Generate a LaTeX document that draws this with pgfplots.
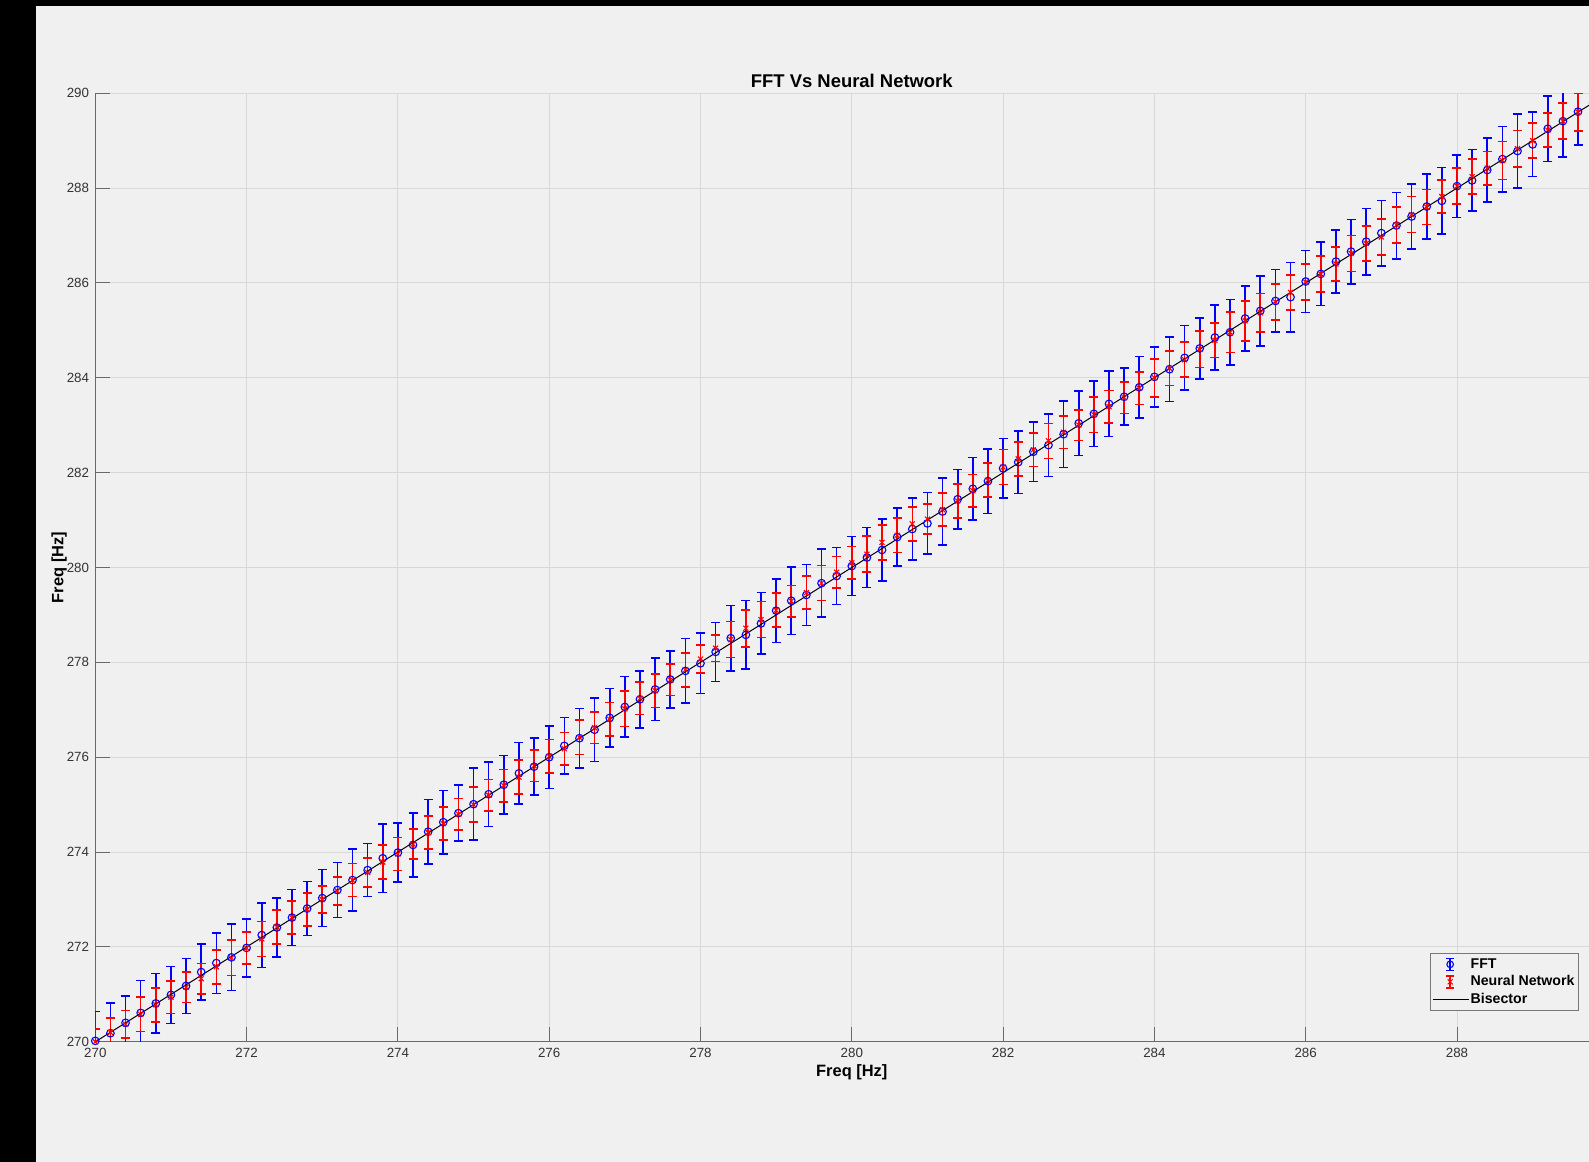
\documentclass[border=0pt]{standalone}
\usepackage{pgfplots}
\pgfplotsset{compat=1.18}
\usepackage{pgfplotstable}
\usepackage{fontspec}
\setmainfont{Liberation Sans}
\definecolor{figbg}{RGB}{240,240,240}
\definecolor{gridgray}{RGB}{216,216,216}
\definecolor{axisgray}{RGB}{105,105,105}
\definecolor{legedge}{RGB}{120,120,120}

\pgfplotstableread{
x y e
270.0 270.02 0.62
270.2 270.18 0.64
270.4 270.40 0.56
270.6 270.61 0.68
270.8 270.81 0.63
271.0 270.99 0.60
271.2 271.18 0.58
271.4 271.47 0.59
271.6 271.66 0.64
271.8 271.78 0.70
272.0 271.98 0.61
272.2 272.25 0.68
272.4 272.41 0.62
272.6 272.62 0.59
272.8 272.81 0.57
273.0 273.03 0.60
273.2 273.20 0.58
273.4 273.41 0.65
273.6 273.62 0.56
273.8 273.87 0.72
274.0 273.99 0.62
274.2 274.15 0.67
274.4 274.43 0.68
274.6 274.63 0.67
274.8 274.82 0.59
275.0 275.01 0.76
275.2 275.22 0.68
275.4 275.42 0.62
275.6 275.66 0.65
275.8 275.80 0.60
276.0 276.00 0.66
276.2 276.24 0.60
276.4 276.40 0.63
276.6 276.58 0.67
276.8 276.83 0.62
277.0 277.06 0.64
277.2 277.22 0.60
277.4 277.43 0.66
277.6 277.64 0.60
277.8 277.82 0.68
278.0 277.98 0.64
278.2 278.22 0.62
278.4 278.51 0.69
278.6 278.58 0.72
278.8 278.82 0.65
279.0 279.09 0.67
279.2 279.30 0.71
279.4 279.42 0.64
279.6 279.67 0.72
279.8 279.82 0.60
280.0 280.03 0.62
280.2 280.21 0.63
280.4 280.37 0.65
280.6 280.64 0.61
280.8 280.81 0.65
281.0 280.93 0.65
281.2 281.18 0.71
281.4 281.44 0.63
281.6 281.66 0.66
281.8 281.82 0.68
282.0 282.09 0.63
282.2 282.22 0.66
282.4 282.44 0.63
282.6 282.58 0.66
282.8 282.81 0.70
283.0 283.04 0.68
283.2 283.24 0.69
283.4 283.45 0.69
283.6 283.60 0.60
283.8 283.80 0.65
284.0 284.02 0.63
284.2 284.18 0.68
284.4 284.42 0.68
284.6 284.62 0.64
284.8 284.85 0.68
285.0 284.96 0.69
285.2 285.25 0.68
285.4 285.41 0.74
285.6 285.62 0.66
285.8 285.70 0.73
286.0 286.03 0.65
286.2 286.19 0.67
286.4 286.45 0.66
286.6 286.66 0.68
286.8 286.87 0.70
287.0 287.05 0.69
287.2 287.21 0.70
287.4 287.40 0.68
287.6 287.61 0.68
287.8 287.73 0.70
288.0 288.04 0.66
288.2 288.16 0.65
288.4 288.38 0.68
288.6 288.61 0.69
288.8 288.78 0.78
289.0 288.92 0.68
289.2 289.25 0.69
289.4 289.41 0.75
289.6 289.61 0.70
289.8 289.80 0.68
}\fftdata

\pgfplotstableread{
x y e
270.0 270.00 0.27
270.2 270.20 0.30
270.4 270.37 0.29
270.6 270.58 0.36
270.8 270.78 0.36
271.0 270.94 0.34
271.2 271.15 0.32
271.4 271.33 0.32
271.6 271.58 0.36
271.8 271.77 0.37
272.0 271.98 0.34
272.2 272.17 0.37
272.4 272.42 0.36
272.6 272.62 0.35
272.8 272.79 0.35
273.0 273.00 0.28
273.2 273.18 0.30
273.4 273.41 0.35
273.6 273.57 0.30
273.8 273.79 0.36
274.0 273.96 0.35
274.2 274.17 0.32
274.4 274.41 0.35
274.6 274.60 0.35
274.8 274.80 0.33
275.0 275.00 0.37
275.2 275.20 0.33
275.4 275.40 0.34
275.6 275.58 0.36
275.8 275.82 0.33
276.0 276.02 0.35
276.2 276.18 0.34
276.4 276.42 0.36
276.6 276.62 0.33
276.8 276.80 0.35
277.0 277.02 0.37
277.2 277.24 0.34
277.4 277.40 0.35
277.6 277.63 0.33
277.8 277.84 0.36
278.0 278.07 0.30
278.2 278.30 0.28
278.4 278.48 0.38
278.6 278.72 0.39
278.8 278.90 0.38
279.0 279.10 0.36
279.2 279.29 0.33
279.4 279.47 0.35
279.6 279.67 0.37
279.8 279.90 0.33
280.0 280.10 0.34
280.2 280.28 0.38
280.4 280.53 0.37
280.6 280.68 0.36
280.8 280.92 0.36
281.0 281.02 0.32
281.2 281.22 0.35
281.4 281.40 0.36
281.6 281.62 0.34
281.8 281.84 0.36
282.0 282.12 0.37
282.2 282.29 0.36
282.4 282.48 0.35
282.6 282.67 0.37
282.8 282.85 0.34
283.0 283.00 0.32
283.2 283.22 0.37
283.4 283.39 0.34
283.6 283.58 0.33
283.8 283.78 0.34
284.0 284.00 0.40
284.2 284.20 0.36
284.4 284.38 0.37
284.6 284.60 0.38
284.8 284.79 0.36
285.0 284.96 0.43
285.2 285.20 0.42
285.4 285.37 0.41
285.6 285.60 0.38
285.8 285.80 0.37
286.0 286.02 0.38
286.2 286.19 0.38
286.4 286.40 0.36
286.6 286.62 0.38
286.8 286.83 0.37
287.0 286.97 0.38
287.2 287.22 0.38
287.4 287.44 0.38
287.6 287.60 0.37
287.8 287.82 0.35
288.0 288.04 0.38
288.2 288.24 0.37
288.4 288.42 0.35
288.6 288.58 0.40
288.8 288.83 0.38
289.0 289.00 0.37
289.2 289.22 0.36
289.4 289.41 0.38
289.6 289.60 0.40
289.8 289.80 0.38
}\nndata

\begin{document}
\begin{tikzpicture}
\useasboundingbox (-95.3bp,-120.2bp) rectangle (1493.7bp,1041.8bp);
\clip (-95.3bp,-120.2bp) rectangle (1493.7bp,1041.8bp);
\fill[black] (-95.3bp,-120.2bp) rectangle (1493.7bp,1041.8bp);
\fill[figbg] (-59.3bp,-120.2bp) rectangle (1493.7bp,1035.8bp);
\begin{axis}[
  at={(0,0)}, anchor=south west,
  scale only axis, width=1513bp, height=948.6bp,
  xmin=270, xmax=290, ymin=270, ymax=290,
  xtick={270,272,...,288}, ytick={270,272,...,290},
  extra x ticks={290}, extra x tick labels={},
  axis x line*=bottom, axis y line*=left,
  axis line style={axisgray, line width=0.9bp},
  tick align=inside, major tick length=15bp,
  tick style={axisgray, line width=0.9bp},
  grid=major, major grid style={gridgray, line width=0.9bp},
  /pgf/number format/assume math mode=true,
  ticklabel style={font=\fontsize{13.4}{15}\selectfont, text=black!80},
  xticklabel style={anchor=base, yshift=-16bp},
  yticklabel style={anchor=east, inner sep=0pt, xshift=-6bp},
  title={FFT Vs Neural Network},
  title style={at={(axis description cs:0.5,1)}, anchor=base, yshift=0bp, font=\bfseries\fontsize{18.5}{20}\selectfont},
  xlabel={Freq [Hz]},
  xlabel style={at={(axis description cs:0.5,0)}, anchor=base, yshift=-35bp, font=\bfseries\fontsize{16.5}{18}\selectfont},
  ylabel={Freq [Hz]},
  ylabel style={at={(axis description cs:0,0.5)}, anchor=base, yshift=31.8bp, font=\bfseries\fontsize{16.5}{18}\selectfont},
  legend style={at={(axis description cs:0.882,0.033)}, anchor=south west,
    draw=legedge, line width=0.8bp, fill=figbg, inner xsep=2bp, inner ysep=2bp,
    font=\bfseries\fontsize{14.2}{16}\selectfont,
    nodes={inner sep=1.5bp, text height=11bp, text depth=3.5bp}, row sep=0bp},
  legend cell align=left,
]
\addplot[blue, only marks, mark=o, mark size=3.8bp, mark options={line width=1.1bp, draw=blue},
  legend image code/.code={
    \fill[opacity=0] (0bp,-1bp) rectangle (36bp,1bp);
    \draw[blue, line width=1.4bp] (17.5bp,-6bp) -- (17.5bp,6bp) (13.5bp,-6bp) -- (21.5bp,-6bp) (13.5bp,6bp) -- (21.5bp,6bp);
    \draw[blue, line width=1.1bp] (17.5bp,0bp) circle (3.3bp);},
  error bars/.cd, y dir=both, y explicit,
  error bar style={line width=1.6bp, draw=blue},
  error mark options={rotate=90, mark size=4.5bp, line width=1.6bp, draw=blue}]
  table[x=x, y=y, y error=e] {\fftdata};
\addlegendentry{FFT}
\addplot[red, only marks, mark=x, mark size=3.5bp, mark options={line width=1.1bp, draw=red},
  legend image code/.code={
    \fill[opacity=0] (0bp,-1bp) rectangle (36bp,1bp);
    \draw[red, line width=1.4bp] (17.5bp,-6bp) -- (17.5bp,6bp) (13.5bp,-6bp) -- (21.5bp,-6bp) (13.5bp,6bp) -- (21.5bp,6bp);
    \draw[red, line width=1bp] (15bp,-2.5bp) -- (20bp,2.5bp) (15bp,2.5bp) -- (20bp,-2.5bp);},
  error bars/.cd, y dir=both, y explicit,
  error bar style={line width=1.6bp, draw=red},
  error mark options={rotate=90, mark size=4.5bp, line width=1.6bp, draw=red}]
  table[x=x, y=y, y error=e] {\nndata};
\addlegendentry{Neural Network}
\addplot[black, line width=1bp,
  legend image code/.code={\draw[black, line width=1bp] (0bp,0bp) -- (36bp,0bp);}]
  coordinates {(270,270) (290,290)};
\addlegendentry{Bisector}
\end{axis}
\end{tikzpicture}
\end{document}
